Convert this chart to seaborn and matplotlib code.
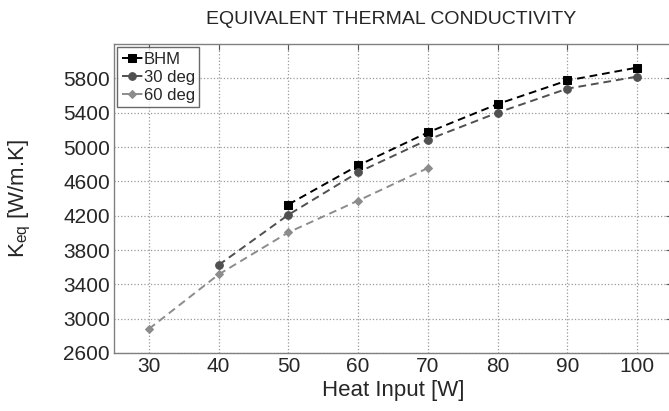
import matplotlib
matplotlib.use("Agg")
import matplotlib.pyplot as plt
import seaborn as sns
import pandas as pd

heat_bhm = [50, 60, 70, 80, 90, 100]
k_bhm = [4330, 4785, 5170, 5500, 5775, 5925]
heat_30 = [40, 50, 60, 70, 80, 90, 100]
k_30 = [3625, 4210, 4705, 5085, 5400, 5680, 5820]
heat_60 = [30, 40, 50, 60, 70]
k_60 = [2880, 3515, 4005, 4375, 4755]
series_names = ["BHM", "30 deg", "60 deg"]
x_ticks = [30, 40, 50, 60, 70, 80, 90, 100]
y_ticks = [2600, 3000, 3400, 3800, 4200, 4600, 5000, 5400, 5800]

df = pd.concat([
    pd.DataFrame({"x": heat_bhm, "y": k_bhm, "s": series_names[0]}),
    pd.DataFrame({"x": heat_30, "y": k_30, "s": series_names[1]}),
    pd.DataFrame({"x": heat_60, "y": k_60, "s": series_names[2]}),
])

sns.set_style("white")
plt.rcParams['font.family'] = ['Liberation Sans', 'DejaVu Sans']

fig = plt.figure(figsize=(6.69, 4.11), dpi=100)
ax = fig.add_axes([114/669, 1 - 353/411, (672-114)/669, (353-44)/411])

colors = {"BHM": "#000000", "30 deg": "#505050", "60 deg": "#8c8c8c"}
markers = {"BHM": "s", "30 deg": "o", "60 deg": "D"}
msize = {"BHM": 5.5, "30 deg": 5.5, "60 deg": 4.5}
for name in series_names:
    sub = df[df["s"] == name]
    sns.lineplot(data=sub, x="x", y="y", ax=ax, color=colors[name],
                 marker=markers[name], markersize=msize[name],
                 markeredgecolor=colors[name], linestyle="--",
                 linewidth=1.4, label=name, dashes=False)
    ax.lines[-1].set_linestyle((0, (4, 2.5)))

ax.set_xlim(25, 105)
ax.set_ylim(2600, 6200)
ax.set_xticks(x_ticks)
ax.set_yticks(y_ticks)
ax.tick_params(axis="both", labelsize=15, direction="in", length=4,
               color="#555555", top=True, right=True, pad=3)
ax.grid(True, linestyle=":", color="#999999", linewidth=0.9)
for sp in ax.spines.values():
    sp.set_color("#808080")
    sp.set_linewidth(1.0)

ax.set_xlabel("Heat Input [W]", fontsize=16)
ax.set_ylabel(r"K$_{\mathregular{eq}}$ [W/m.K]", fontsize=16)
ax.yaxis.set_label_coords((33 - 114) / 558, 0.5)
ax.xaxis.set_label_coords(0.5, (353 - 380) / 309)
fig.text(391/669, 1 - 20/411, "EQUIVALENT THERMAL CONDUCTIVITY", ha="center",
         va="center", fontsize=14)

leg = ax.legend(loc="upper left", fontsize=12, frameon=True, fancybox=False,
                borderpad=0.25, handlelength=1.3, handletextpad=0.05,
                labelspacing=0.2, borderaxespad=0.2)
leg.get_frame().set_edgecolor("#444444")
leg.get_frame().set_linewidth(1.0)

fig.savefig("out.png", dpi=100)
